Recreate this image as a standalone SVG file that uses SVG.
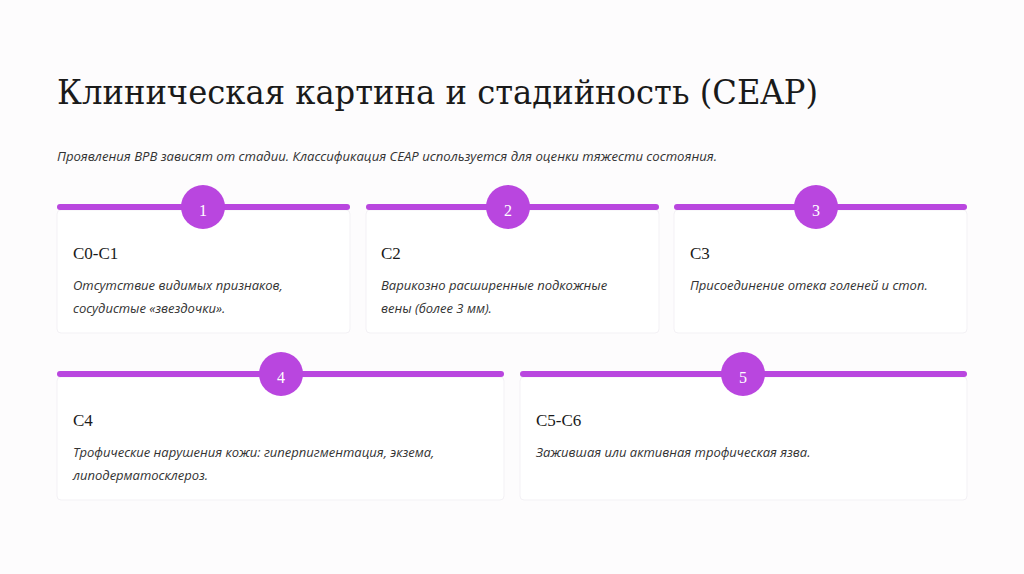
<svg xmlns="http://www.w3.org/2000/svg" width="1024" height="574" viewBox="0 0 1024 574">
<style>
.title{font-family:"DejaVu Serif","Liberation Serif",serif;font-size:33px;fill:#1a1a1a}
.sub{font-family:"Open Sans","Noto Sans",sans-serif;font-style:italic;font-size:13px;fill:#333}
.card{fill:#ffffff;stroke:#f3f1f5;stroke-width:1}
.bar{stroke:#b946df;stroke-width:6;stroke-linecap:round}
.dot{fill:#b946df}
.num{font-family:"Liberation Serif","DejaVu Serif",serif;font-size:16px;fill:#fff;text-anchor:middle}
.head{font-family:"Liberation Serif","DejaVu Serif",serif;font-size:17px;fill:#1a1a1a}
.desc{font-family:"Open Sans","Noto Sans",sans-serif;font-style:italic;font-size:13px;fill:#333}
</style>
<rect width="1024" height="574" fill="#fdfcfd"/>
<text class="title" x="57" y="104" textLength="761" lengthAdjust="spacingAndGlyphs">Клиническая картина и стадийность (CEAP)</text>
<text class="sub" x="57" y="161" textLength="660" lengthAdjust="spacingAndGlyphs">Проявления ВРВ зависят от стадии. Классификация CEAP используется для оценки тяжести состояния.</text>
<g id="n1">
<rect class="card" x="57" y="210" width="293" height="123" rx="4"/>
</g>
<g id="n2">
<rect class="card" x="366" y="210" width="293" height="123" rx="4"/>
</g>
<g id="n3">
<rect class="card" x="674" y="210" width="293" height="123" rx="4"/>
</g>
<g id="n4">
<rect class="card" x="57" y="377" width="447" height="123" rx="4"/>
</g>
<g id="n5">
<rect class="card" x="520" y="377" width="447" height="123" rx="4"/>
</g>
<g id="connectors">
<line class="bar" x1="60" y1="207" x2="347" y2="207"/>
<line class="bar" x1="369" y1="207" x2="656" y2="207"/>
<line class="bar" x1="677" y1="207" x2="964" y2="207"/>
<line class="bar" x1="60" y1="374" x2="501" y2="374"/>
<line class="bar" x1="523" y1="374" x2="964" y2="374"/>
</g>
<g id="n1-label">
<circle class="dot" cx="203" cy="207" r="22"/>
<text class="num" x="203" y="216">1</text>
<text class="head" x="73" y="259">C0-C1</text>
<text class="desc" x="73" y="290">Отсутствие видимых признаков,</text>
<text class="desc" x="73" y="313">сосудистые «звездочки».</text>
</g>
<g id="n2-label">
<circle class="dot" cx="508" cy="207" r="22"/>
<text class="num" x="508" y="216">2</text>
<text class="head" x="381" y="259">C2</text>
<text class="desc" x="381" y="290">Варикозно расширенные подкожные</text>
<text class="desc" x="381" y="313">вены (более 3 мм).</text>
</g>
<g id="n3-label">
<circle class="dot" cx="816" cy="207" r="22"/>
<text class="num" x="816" y="216">3</text>
<text class="head" x="690" y="259">C3</text>
<text class="desc" x="690" y="290">Присоединение отека голеней и стоп.</text>
</g>
<g id="n4-label">
<circle class="dot" cx="281" cy="374" r="22"/>
<text class="num" x="281" y="383">4</text>
<text class="head" x="73" y="426">C4</text>
<text class="desc" x="73" y="457">Трофические нарушения кожи: гиперпигментация, экзема,</text>
<text class="desc" x="73" y="480">липодерматосклероз.</text>
</g>
<g id="n5-label">
<circle class="dot" cx="743" cy="374" r="22"/>
<text class="num" x="743" y="383">5</text>
<text class="head" x="536" y="426">C5-C6</text>
<text class="desc" x="536" y="457">Зажившая или активная трофическая язва.</text>
</g>
</svg>
